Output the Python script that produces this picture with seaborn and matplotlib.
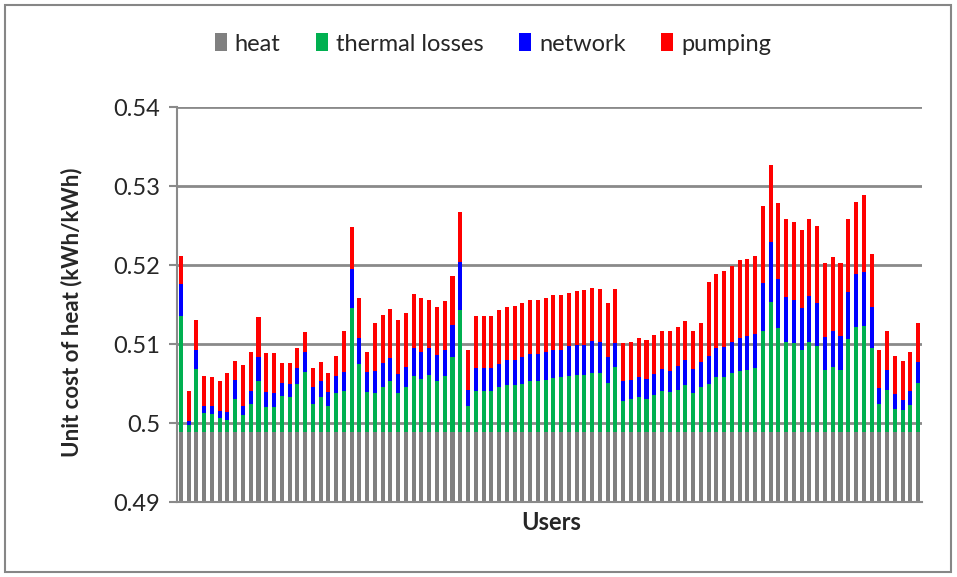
import numpy as np
import pandas as pd
import matplotlib
matplotlib.use("Agg")
import matplotlib.pyplot as plt
from matplotlib.patches import Patch, Rectangle
from matplotlib.ticker import FuncFormatter
import seaborn as sns

# values (kWh/kWh), one entry per user
users = [str(i) for i in range(1, 97)]
HEAT = 0.4988
heat = [HEAT] * len(users)

thermal = [0.0148, 0.0010, 0.0080, 0.0025, 0.0023, 0.0018, 0.0016, 0.0042, 0.0022, 0.0036,
           0.0065, 0.0032, 0.0032, 0.0046, 0.0045, 0.0061, 0.0077, 0.0036, 0.0045, 0.0033,
           0.0050, 0.0053, 0.0157, 0.0087, 0.0051, 0.0050, 0.0058, 0.0065, 0.0050, 0.0057,
           0.0072, 0.0068, 0.0073, 0.0065, 0.0071, 0.0095, 0.0155, 0.0034, 0.0052, 0.0052,
           0.0052, 0.0057, 0.0060, 0.0060, 0.0062, 0.0065, 0.0065, 0.0067, 0.0069, 0.0070,
           0.0072, 0.0073, 0.0073, 0.0075, 0.0075, 0.0063, 0.0083, 0.0040, 0.0042, 0.0045,
           0.0042, 0.0047, 0.0052, 0.0051, 0.0054, 0.0060, 0.0050, 0.0057, 0.0061, 0.0070,
           0.0070, 0.0075, 0.0078, 0.0079, 0.0082, 0.0128, 0.0165, 0.0132, 0.0115, 0.0113,
           0.0105, 0.0114, 0.0110, 0.0079, 0.0083, 0.0079, 0.0118, 0.0133, 0.0135, 0.0107,
           0.0036, 0.0054, 0.0030, 0.0028, 0.0035, 0.0063]

network = [0.0040, 0.0005, 0.0025, 0.0009, 0.0010, 0.0009, 0.0010, 0.0024, 0.0012, 0.0016,
           0.0031, 0.0019, 0.0018, 0.0016, 0.0017, 0.0021, 0.0025, 0.0021, 0.0020, 0.0018,
           0.0022, 0.0023, 0.0050, 0.0033, 0.0026, 0.0028, 0.0030, 0.0029, 0.0024, 0.0026,
           0.0035, 0.0034, 0.0034, 0.0033, 0.0034, 0.0041, 0.0061, 0.0020, 0.0029, 0.0029,
           0.0030, 0.0030, 0.0032, 0.0032, 0.0034, 0.0034, 0.0034, 0.0035, 0.0036, 0.0035,
           0.0037, 0.0038, 0.0038, 0.0041, 0.0039, 0.0033, 0.0030, 0.0025, 0.0025, 0.0025,
           0.0026, 0.0027, 0.0028, 0.0027, 0.0030, 0.0032, 0.0030, 0.0032, 0.0036, 0.0037,
           0.0038, 0.0039, 0.0042, 0.0043, 0.0043, 0.0061, 0.0076, 0.0062, 0.0057, 0.0055,
           0.0053, 0.0059, 0.0054, 0.0042, 0.0046, 0.0043, 0.0060, 0.0067, 0.0068, 0.0052,
           0.0020, 0.0025, 0.0019, 0.0013, 0.0018, 0.0026]

pumping = [0.0035, 0.0037, 0.0037, 0.0037, 0.0037, 0.0038, 0.0049, 0.0025, 0.0051, 0.0050,
           0.0050, 0.0049, 0.0050, 0.0026, 0.0026, 0.0025, 0.0025, 0.0025, 0.0024, 0.0024,
           0.0025, 0.0052, 0.0053, 0.0050, 0.0025, 0.0061, 0.0061, 0.0062, 0.0069, 0.0068,
           0.0068, 0.0068, 0.0061, 0.0061, 0.0062, 0.0062, 0.0063, 0.0051, 0.0067, 0.0067,
           0.0066, 0.0068, 0.0067, 0.0068, 0.0068, 0.0069, 0.0069, 0.0068, 0.0069, 0.0069,
           0.0068, 0.0068, 0.0069, 0.0067, 0.0067, 0.0068, 0.0068, 0.0048, 0.0048, 0.0049,
           0.0049, 0.0049, 0.0049, 0.0051, 0.0049, 0.0049, 0.0048, 0.0049, 0.0093, 0.0093,
           0.0097, 0.0097, 0.0098, 0.0098, 0.0098, 0.0098, 0.0098, 0.0097, 0.0098, 0.0098,
           0.0098, 0.0097, 0.0098, 0.0094, 0.0093, 0.0093, 0.0092, 0.0092, 0.0097, 0.0067,
           0.0049, 0.0049, 0.0048, 0.0049, 0.0049, 0.0049]

series_names = ["heat", "thermal losses", "network", "pumping"]
colors = {"heat": "#808080", "thermal losses": "#00B050",
          "network": "#0000FF", "pumping": "#FF0000"}

df = pd.DataFrame({"user": users, "heat": heat, "thermal losses": thermal,
                   "network": network, "pumping": pumping})
# cumulative tops for the stacked look
cum = df[series_names].cumsum(axis=1)
cum["user"] = df["user"]

sns.set_style("white")
plt.rcParams['font.family'] = ['Lato', 'DejaVu Sans']

fig = plt.figure(figsize=(9.57, 5.77), dpi=100)
ax = fig.add_axes([177 / 957, 1 - 502 / 577, 745 / 957, 395 / 577])
ax.set_axisbelow(True)

# draw tallest stack first, then overlay lower ones
for name in series_names[::-1]:
    sns.barplot(data=cum, x="user", y=name, color=colors[name], saturation=1,
                width=0.52, linewidth=0, errorbar=None, ax=ax, zorder=2)

ax.set_ylim(0.49, 0.54)
ax.set_yticks(np.arange(0.49, 0.5401, 0.01))
ax.yaxis.set_major_formatter(FuncFormatter(lambda v, p: f"{round(v, 2):g}"))
ax.set_xticks([])
ax.set_xlabel("")
ax.set_ylabel("")
ax.yaxis.grid(True, color="#8a8a8a", linewidth=2)
ax.tick_params(axis="y", labelsize=17, length=6, width=1.5, color="#8a8a8a",
               direction="out", pad=6, left=True)
for s in ["top", "right"]:
    ax.spines[s].set_visible(False)
for s in ["left", "bottom"]:
    ax.spines[s].set_color("#8a8a8a")
    ax.spines[s].set_linewidth(1.5)

fig.text(72 / 957, 1 - 312 / 577, "Unit cost of heat (kWh/kWh)", rotation=90,
         ha="center", va="center", fontsize=16, fontweight="bold")
fig.text(551 / 957, 1 - 523 / 577, "Users", ha="center", va="center",
         fontsize=17, fontweight="bold")

handles = [Patch(facecolor=colors[n], edgecolor="none", label=n) for n in series_names]
fig.legend(handles=handles, loc="center", bbox_to_anchor=(493 / 957, 1 - 44 / 577),
           ncol=4, frameon=False, fontsize=17, handlelength=0.5, handleheight=0.8,
           handletextpad=0.35, columnspacing=1.5)

fig.patches.append(Rectangle((5 / 957, 5 / 577), 946 / 957, 567 / 577,
                             transform=fig.transFigure, fill=False,
                             edgecolor="#868686", linewidth=1.5))

fig.savefig("out.png", dpi=100)
